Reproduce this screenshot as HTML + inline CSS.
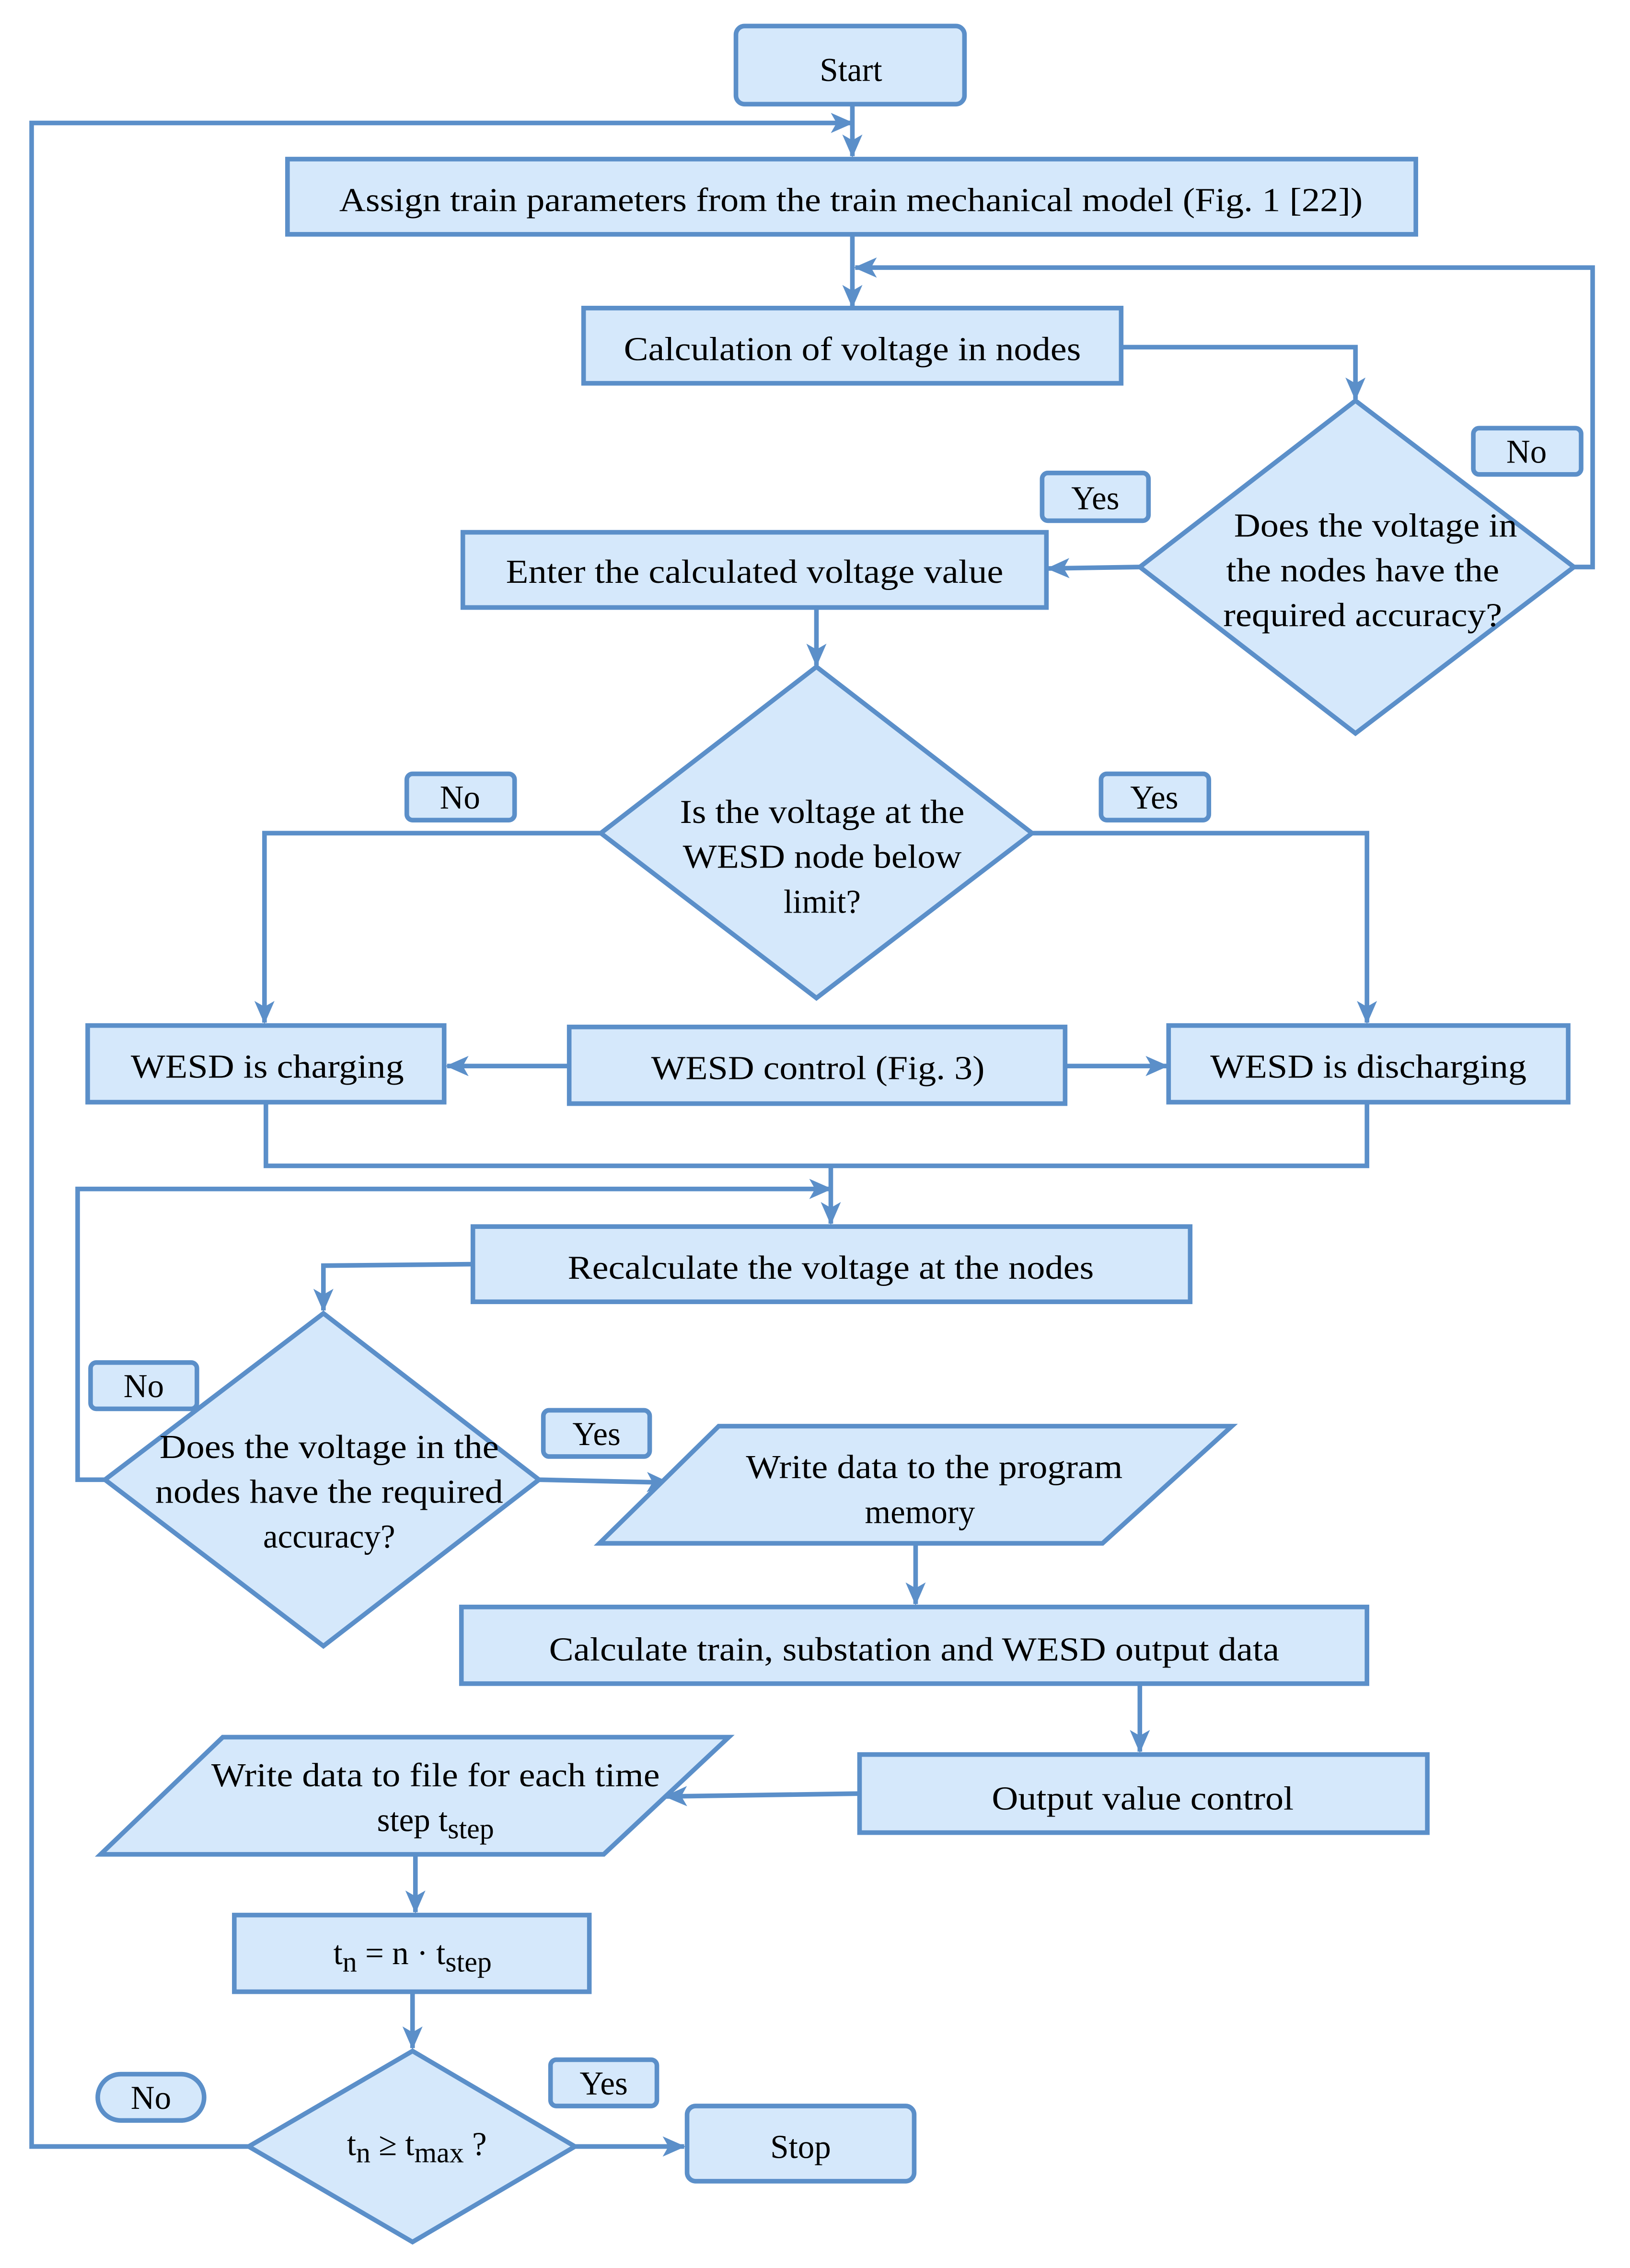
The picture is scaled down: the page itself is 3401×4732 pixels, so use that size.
<!DOCTYPE html>
<html><head><meta charset="utf-8"><style>html,body{margin:0;padding:0;background:#fff}svg{display:block}</style></head><body>
<svg width="3401" height="4732" viewBox="0 0 1134 1568" preserveAspectRatio="none" xmlns="http://www.w3.org/2000/svg">
<defs>
<marker id="a" viewBox="0 0 16 14" refX="15" refY="7" markerWidth="16" markerHeight="14" markerUnits="userSpaceOnUse" orient="auto">
<path d="M0,0 L16,7 L0,14 L4,7 z" fill="#5b8fc9"/></marker>
</defs>
<g fill="none" stroke="#5b8fc9" stroke-width="3.2">
<path d="M593,72 V108" marker-end="url(#a)"/>
<path d="M173,1484 H22 V85 H593" marker-end="url(#a)"/>
<path d="M593,162 V212" marker-end="url(#a)"/>
<path d="M1095,392 H1108 V185 H595" marker-end="url(#a)"/>
<path d="M780,240 H943 V276" marker-end="url(#a)"/>
<path d="M793,392 L729,393" marker-end="url(#a)"/>
<path d="M568,420 V460" marker-end="url(#a)"/>
<path d="M418,576 H184 V707" marker-end="url(#a)"/>
<path d="M718,576 H951 V707" marker-end="url(#a)"/>
<path d="M396,737 H311" marker-end="url(#a)"/>
<path d="M741,737 H812" marker-end="url(#a)"/>
<path d="M185,762 V806 H951 V762"/>
<path d="M578,806 V846" marker-end="url(#a)"/>
<path d="M73,1023 H54 V822 H578" marker-end="url(#a)"/>
<path d="M329,874 L225,875 V906" marker-end="url(#a)"/>
<path d="M375,1023 L465,1025" marker-end="url(#a)"/>
<path d="M637,1067 V1109" marker-end="url(#a)"/>
<path d="M793,1164 V1211" marker-end="url(#a)"/>
<path d="M598,1240 L463,1242" marker-end="url(#a)"/>
<path d="M289,1282 V1322" marker-end="url(#a)"/>
<path d="M287,1377 V1416" marker-end="url(#a)"/>
<path d="M400,1484 H476" marker-end="url(#a)"/>
</g>
<g fill="#d5e8fb" stroke="#5b8fc9" stroke-width="3.2">
<rect x="512" y="18" width="159" height="54" rx="6"/>
<rect x="200" y="110" width="785" height="52"/>
<rect x="406" y="213" width="374" height="52"/>
<polygon points="943,277 1095,392 943,507 793,392"/>
<rect x="1025" y="296" width="75" height="32" rx="4"/>
<rect x="725" y="327" width="74" height="33" rx="4"/>
<rect x="322" y="368" width="406" height="52"/>
<polygon points="568,461 718,576 568,690 418,576"/>
<rect x="283" y="535" width="75" height="32" rx="4"/>
<rect x="766" y="535" width="75" height="32" rx="4"/>
<rect x="61" y="709" width="248" height="53"/>
<rect x="396" y="710" width="345" height="53"/>
<rect x="813" y="709" width="278" height="53"/>
<rect x="329" y="848" width="499" height="52"/>
<polygon points="225,908 375,1023 225,1138 73,1023"/>
<rect x="63" y="942" width="74" height="32" rx="4"/>
<rect x="378" y="975" width="74" height="32" rx="4"/>
<polygon points="417,1067 500,986 857,986 767,1067"/>
<rect x="321" y="1111" width="630" height="53"/>
<rect x="598" y="1213" width="395" height="54"/>
<polygon points="70,1282 155,1201 507,1201 420,1282"/>
<rect x="163" y="1324" width="247" height="53"/>
<polygon points="287,1418 400,1484 287,1550 173,1484"/>
<rect x="68" y="1434" width="74" height="32" rx="16"/>
<rect x="383" y="1424" width="74" height="32" rx="4"/>
<rect x="478" y="1456" width="158" height="52" rx="6"/>
</g>
<g font-family="'Liberation Serif',serif" font-size="23" fill="#000" text-anchor="middle">
<text x="592" y="56">Start</text>
<text x="592" y="146" textLength="712" lengthAdjust="spacingAndGlyphs">Assign train parameters from the train mechanical model (Fig. 1 [22])</text>
<text x="593" y="249" textLength="318" lengthAdjust="spacingAndGlyphs">Calculation of voltage in nodes</text>
<text x="957" y="371" textLength="197" lengthAdjust="spacingAndGlyphs">Does the voltage in</text>
<text x="948" y="402" textLength="190" lengthAdjust="spacingAndGlyphs">the nodes have the</text>
<text x="948" y="433" textLength="194" lengthAdjust="spacingAndGlyphs">required accuracy?</text>
<text x="1062" y="320">No</text>
<text x="762" y="352">Yes</text>
<text x="525" y="403" textLength="346" lengthAdjust="spacingAndGlyphs">Enter the calculated voltage value</text>
<text x="572" y="569" textLength="198" lengthAdjust="spacingAndGlyphs">Is the voltage at the</text>
<text x="572" y="600" textLength="194" lengthAdjust="spacingAndGlyphs">WESD node below</text>
<text x="572" y="631">limit?</text>
<text x="320" y="559">No</text>
<text x="803" y="559">Yes</text>
<text x="186" y="745" textLength="190" lengthAdjust="spacingAndGlyphs">WESD is charging</text>
<text x="569" y="746" textLength="232" lengthAdjust="spacingAndGlyphs">WESD control (Fig. 3)</text>
<text x="952" y="745" textLength="220" lengthAdjust="spacingAndGlyphs">WESD is discharging</text>
<text x="578" y="884" textLength="366" lengthAdjust="spacingAndGlyphs">Recalculate the voltage at the nodes</text>
<text x="229" y="1008" textLength="236" lengthAdjust="spacingAndGlyphs">Does the voltage in the</text>
<text x="229" y="1039" textLength="242" lengthAdjust="spacingAndGlyphs">nodes have the required</text>
<text x="229" y="1070">accuracy?</text>
<text x="100" y="966">No</text>
<text x="415" y="999">Yes</text>
<text x="650" y="1022" textLength="262" lengthAdjust="spacingAndGlyphs">Write data to the program</text>
<text x="640" y="1053">memory</text>
<text x="636" y="1148" textLength="508" lengthAdjust="spacingAndGlyphs">Calculate train, substation and WESD output data</text>
<text x="795" y="1251" textLength="210" lengthAdjust="spacingAndGlyphs">Output value control</text>
<text x="303" y="1235" textLength="312" lengthAdjust="spacingAndGlyphs">Write data to file for each time</text>
<text x="303" y="1266">step t<tspan font-size="20" dy="5">step</tspan></text>
<text x="287" y="1358">t<tspan font-size="20" dy="5">n</tspan><tspan dy="-5"> = n · t</tspan><tspan font-size="20" dy="5">step</tspan></text>
<text x="105" y="1458">No</text>
<text x="420" y="1448">Yes</text>
<text x="290" y="1490">t<tspan font-size="20" dy="5">n</tspan><tspan dy="-5"> ≥ t</tspan><tspan font-size="20" dy="5">max</tspan><tspan dy="-5"> ?</tspan></text>
<text x="557" y="1492">Stop</text>
</g>
</svg>
</body></html>
